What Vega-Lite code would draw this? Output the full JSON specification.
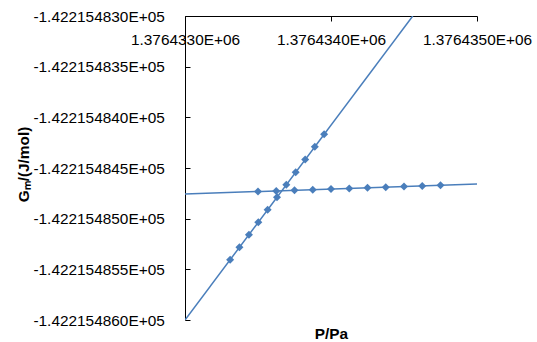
{
  "$schema": "https://vega.github.io/schema/vega-lite/v6.json",
  "width": 292,
  "height": 304,
  "autosize": {"type": "none"},
  "padding": {"left": 185, "top": 16, "right": 60, "bottom": 22},
  "background": "white",
  "config": {"view": {"stroke": null}, "font": "Liberation Sans"},
  "datasets": {
    "trend": [
      {"series": "A", "P": 1376433.0, "G": -142215.486},
      {"series": "A", "P": 1376434.56, "G": -142215.483},
      {"series": "B", "P": 1376433.0, "G": -142215.4847565},
      {"series": "B", "P": 1376435.0, "G": -142215.4846578}
    ],
    "points": [
      {"series": "A", "P": 1376433.309, "G": -142215.4854058},
      {"series": "A", "P": 1376433.373, "G": -142215.4852827},
      {"series": "A", "P": 1376433.438, "G": -142215.4851577},
      {"series": "A", "P": 1376433.502, "G": -142215.4850346},
      {"series": "A", "P": 1376433.566, "G": -142215.4849115},
      {"series": "A", "P": 1376433.630, "G": -142215.4847884},
      {"series": "A", "P": 1376433.694, "G": -142215.4846654},
      {"series": "A", "P": 1376433.758, "G": -142215.4845423},
      {"series": "A", "P": 1376433.823, "G": -142215.4844173},
      {"series": "A", "P": 1376433.889, "G": -142215.4842904},
      {"series": "A", "P": 1376433.953, "G": -142215.4841673},
      {"series": "B", "P": 1376433.500, "G": -142215.4847319},
      {"series": "B", "P": 1376433.625, "G": -142215.4847258},
      {"series": "B", "P": 1376433.750, "G": -142215.4847196},
      {"series": "B", "P": 1376433.875, "G": -142215.4847135},
      {"series": "B", "P": 1376434.000, "G": -142215.4847074},
      {"series": "B", "P": 1376434.125, "G": -142215.4847012},
      {"series": "B", "P": 1376434.250, "G": -142215.4846950},
      {"series": "B", "P": 1376434.375, "G": -142215.4846889},
      {"series": "B", "P": 1376434.500, "G": -142215.4846827},
      {"series": "B", "P": 1376434.625, "G": -142215.4846766},
      {"series": "B", "P": 1376434.750, "G": -142215.4846704}
    ]
  },
  "encoding": {
    "x": {
      "field": "P",
      "type": "quantitative",
      "scale": {"domain": [1376433, 1376435], "nice": false, "zero": false},
      "axis": {
        "orient": "bottom",
        "offset": -304,
        "values": [1376433, 1376434, 1376435],
        "labelExpr": "format(datum.value/1e6,'.7f')+'E+06'",
        "tickSize": 5,
        "labelPadding": 11,
        "labelBaseline": "top",
        "labelFontSize": 15.4,
        "labelColor": "black",
        "labelFlush": false,
        "labelOverlap": false,
        "domainColor": "black",
        "tickColor": "black",
        "grid": false,
        "title": "P/Pa",
        "titleFontSize": 15.4,
        "titleFontWeight": "bold",
        "titleColor": "black",
        "titleY": 322.5,
        "titleBaseline": "alphabetic"
      }
    },
    "y": {
      "field": "G",
      "type": "quantitative",
      "scale": {"domain": [-142215.486, -142215.483], "nice": false, "zero": false},
      "axis": {
        "orient": "left",
        "values": [-142215.486, -142215.4855, -142215.485, -142215.4845, -142215.484, -142215.4835, -142215.483],
        "labelExpr": "'-'+format(-datum.value/1e5,'.9f')+'E+05'",
        "tickSize": -5,
        "labelPadding": 25.7,
        "labelFontSize": 15.4,
        "labelBaseline": "middle",
        "labelColor": "black",
        "labelFlush": false,
        "labelOverlap": false,
        "domainColor": "black",
        "tickColor": "black",
        "grid": false,
        "title": "Gₘ/(J/mol)",
        "titleFontSize": 15.4,
        "titleFontWeight": "bold",
        "titleColor": "black",
        "titleAngle": -90,
        "titleX": -156.5,
        "titleY": 148,
        "titleAlign": "center",
        "titleBaseline": "alphabetic"
      }
    }
  },
  "layer": [
    {
      "data": {"name": "trend"},
      "mark": {"type": "line", "color": "#4A7EBB", "strokeWidth": 1.5, "clip": true},
      "encoding": {"detail": {"field": "series"}}
    },
    {
      "data": {"name": "points"},
      "mark": {"type": "point", "shape": "diamond", "filled": true, "size": 64, "color": "#4A7EBB", "opacity": 1}
    }
  ]
}
